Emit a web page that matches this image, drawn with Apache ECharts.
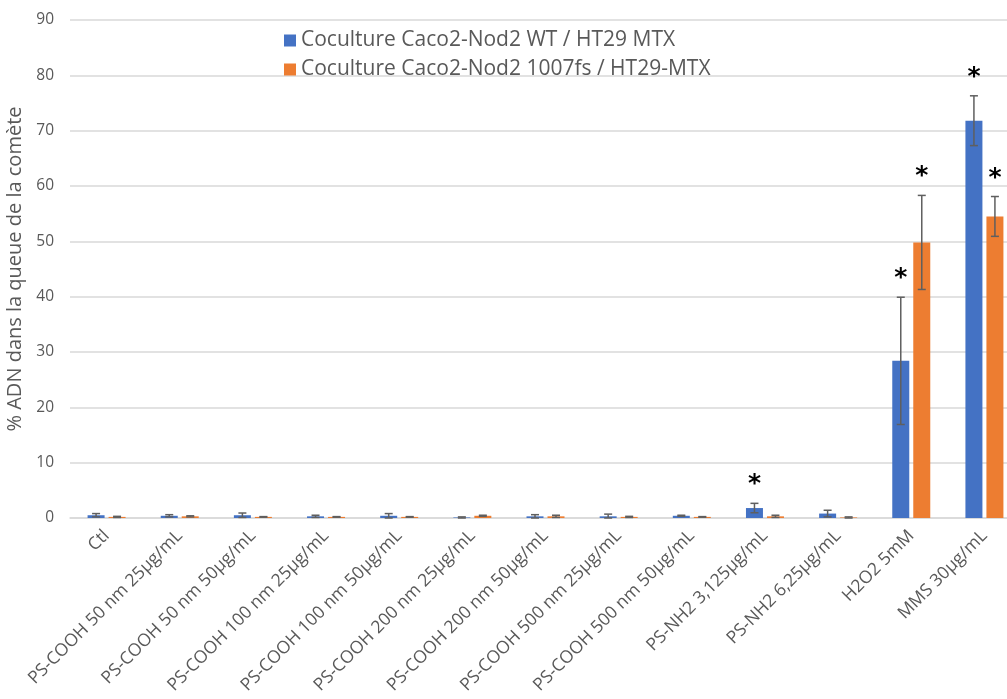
<!DOCTYPE html>
<html>
<head>
<meta charset="utf-8">
<script src="https://cdn.jsdelivr.net/npm/echarts@6/dist/echarts.min.js"></script>
<style>html,body{margin:0;padding:0;background:#fff}#c{width:1007px;height:699px}</style>
</head>
<body>
<div id="c"></div>
<script>
const categories = ['Ctl','PS-COOH 50 nm 25µg/mL','PS-COOH 50 nm 50µg/mL','PS-COOH 100 nm 25µg/mL','PS-COOH 100 nm 50µg/mL','PS-COOH 200 nm 25µg/mL','PS-COOH 200 nm 50µg/mL','PS-COOH 500 nm 25µg/mL','PS-COOH 500 nm 50µg/mL','PS-NH2 3,125µg/mL','PS-NH2 6,25µg/mL','H2O2 5mM','MMS 30µg/mL'];
const seriesNames = ['Coculture Caco2-Nod2 WT / HT29 MTX','Coculture Caco2-Nod2 1007fs / HT29-MTX'];
const wtValues = [0.5,0.4,0.5,0.3,0.4,0.1,0.3,0.3,0.4,1.8,0.8,28.4,71.8];
const wtErrors = [0.3,0.2,0.4,0.2,0.4,0.1,0.3,0.4,0.1,0.85,0.6,11.5,4.5];
const wtStars = [0,0,0,0,0,0,0,0,0,1,0,1,1];
const fsValues = [0.2,0.3,0.2,0.2,0.2,0.4,0.3,0.2,0.2,0.3,0.1,49.8,54.5];
const fsErrors = [0.1,0.1,0.05,0.05,0.05,0.1,0.2,0.1,0.05,0.2,0.1,8.5,3.6];
const fsStars = [0,0,0,0,0,0,0,0,0,0,0,1,1];
const yTicks = {min:0,max:90,interval:10};

const BAR_W = 17, GAP = 4;
const errData = (vals, errs, stars) => vals.map((v,i)=>[i, v, errs[i], stars[i]]);
function makeErr(offsetSign){
  return function(params, api){
    const i = api.value(0), v = api.value(1), e = api.value(2), s = api.value(3);
    const off = offsetSign*(BAR_W+GAP)/2;
    const top = api.coord([i, v+e]);
    const bot = api.coord([i, Math.max(0, v-e)]);
    const x = top[0] + off;
    const cap = 4;
    const style = {stroke:'#5f5f5f', lineWidth:1.5};
    const children = [
      {type:'line', shape:{x1:x,y1:top[1],x2:x,y2:bot[1]}, style},
      {type:'line', shape:{x1:x-cap,y1:top[1],x2:x+cap,y2:top[1]}, style},
      {type:'line', shape:{x1:x-cap,y1:bot[1],x2:x+cap,y2:bot[1]}, style}
    ];
    if (s) children.push({type:'text', style:{text:'*', x:x, y:top[1]-6, align:'center', verticalAlign:'bottom', font:'bold 25px "DejaVu Sans"', fill:'#000'}});
    return {type:'group', children};
  };
}
const chart = echarts.init(document.getElementById('c'));
chart.setOption({
  animation:false,
  textStyle:{fontFamily:'"Open Sans"'},
  grid:{left:70, top:20, bottom:181, right:-14, containLabel:false, outerBoundsMode:'none'},
  legend:{orient:'vertical', left:279, top:25, itemWidth:12, itemHeight:12, itemGap:8, icon:'rect',
    textStyle:{fontSize:21, color:'#595959', fontFamily:'"Open Sans"'}, data:seriesNames},
  xAxis:{type:'category', data:categories,
    axisLine:{lineStyle:{color:'#d9d9d9', width:1.5}}, axisTick:{show:false},
    axisLabel:{rotate:45, fontSize:17.5, color:'#595959', fontFamily:'"Open Sans"', margin:15, interval:0}},
  yAxis:{type:'value', min:yTicks.min, max:yTicks.max, interval:yTicks.interval,
    name:'% ADN dans la queue de la comète', nameLocation:'middle', nameGap:41, nameRotate:90,
    nameTextStyle:{fontSize:20, color:'#595959', fontFamily:'"Open Sans"'},
    axisLine:{show:false}, axisTick:{show:false},
    axisLabel:{fontSize:15.5, color:'#595959', margin:16},
    splitLine:{lineStyle:{color:'#d9d9d9', width:1.5}}},
  series:[
    {name:seriesNames[0], type:'bar', data:wtValues, barWidth:BAR_W, barGap:(GAP/BAR_W*100)+'%', itemStyle:{color:'#4472C4'}},
    {name:seriesNames[1], type:'bar', data:fsValues, barWidth:BAR_W, itemStyle:{color:'#ED7D31'}},
    {type:'custom', renderItem:makeErr(-1), data:errData(wtValues,wtErrors,wtStars), z:5, clip:false},
    {type:'custom', renderItem:makeErr(1), data:errData(fsValues,fsErrors,fsStars), z:5, clip:false}
  ]
});
</script>
</body>
</html>
